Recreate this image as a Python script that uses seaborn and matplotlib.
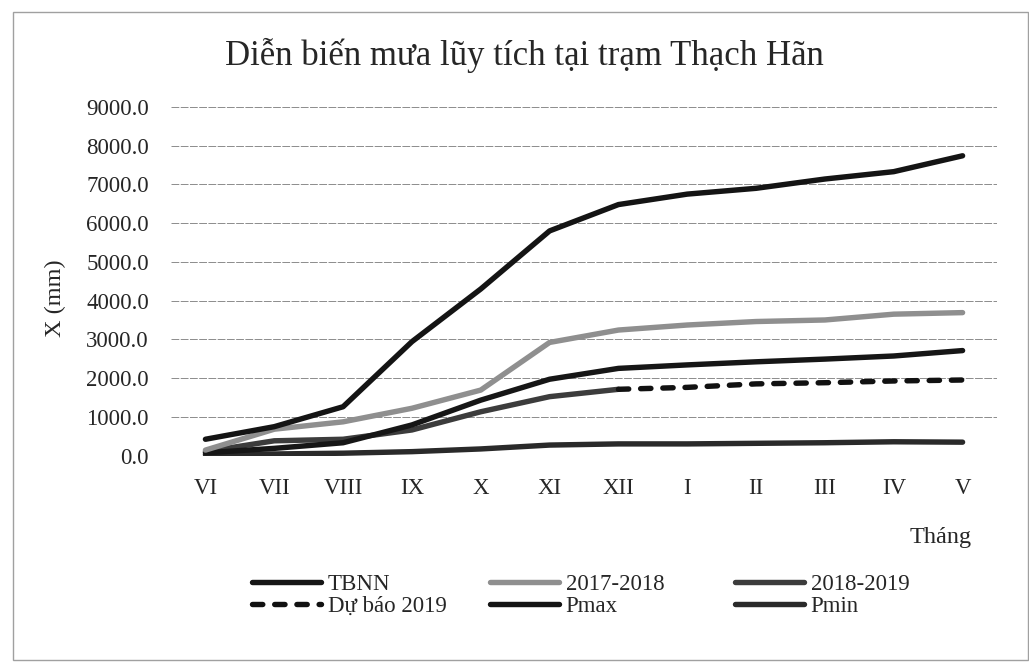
import numpy as np
import pandas as pd
import seaborn as sns
import matplotlib.pyplot as plt
from matplotlib.lines import Line2D
from matplotlib.patches import Rectangle

# Số liệu (mm, lũy tích)
thang = ['VI', 'VII', 'VIII', 'IX', 'X', 'XI', 'XII', 'I', 'II', 'III', 'IV', 'V']
tbnn = [70, 185, 330, 790, 1430, 1970, 2250, 2340, 2420, 2490, 2570, 2710]
nam_2017_2018 = [140, 680, 870, 1220, 1690, 2920, 3240, 3370, 3460, 3500, 3650, 3690]
nam_2018_2019 = [100, 380, 420, 660, 1130, 1520, 1710]           # VI -> XII
du_bao_2019 = [1710, 1760, 1850, 1880, 1925, 1950]               # XII -> V
pmax = [420, 745, 1260, 2940, 4300, 5800, 6480, 6750, 6900, 7140, 7330, 7740]
pmin = [20, 40, 60, 100, 170, 270, 300, 300, 315, 330, 355, 345]

sns.set_style('white')
plt.rcParams['font.family'] = ['Liberation Serif', 'DejaVu Serif']

x = np.arange(len(thang))
n18 = len(nam_2018_2019)

fig = plt.figure(figsize=(10.29, 6.62), dpi=100)
ax = fig.add_axes([0.1662, 0.3119, 0.8027, 0.5265])

kieu = {
    'TBNN': dict(color='#161616', lw=3.9),
    '2017-2018': dict(color='#8f8f8f', lw=3.9),
    '2018-2019': dict(color='#3c3c3c', lw=3.9),
    'Dự báo 2019': dict(color='#111111', lw=3.9, ls=(0, (1.9, 2.2)), dash_capstyle='round'),
    'Pmax': dict(color='#141414', lw=3.9),
    'Pmin': dict(color='#2a2a2a', lw=3.9),
}

sns.lineplot(x=x, y=pmin, ax=ax, **kieu['Pmin'])
sns.lineplot(x=x[:n18], y=nam_2018_2019, ax=ax, **kieu['2018-2019'])
sns.lineplot(x=x[n18 - 1:], y=du_bao_2019, ax=ax, **kieu['Dự báo 2019'])
sns.lineplot(x=x, y=tbnn, ax=ax, **kieu['TBNN'])
sns.lineplot(x=x, y=nam_2017_2018, ax=ax, **kieu['2017-2018'])
sns.lineplot(x=x, y=pmax, ax=ax, **kieu['Pmax'])

ax.set_xlim(-0.5, len(thang) - 0.5)
ax.set_ylim(0, 9000)
ax.set_yticks(np.arange(0, 9001, 1000))
ax.set_yticklabels([f'{v:.1f}' for v in np.arange(0, 9001, 1000)])
ax.set_xticks(x)
ax.set_xticklabels(thang)
ax.tick_params(axis='y', length=0, pad=16, labelsize=16.5)
ax.tick_params(axis='x', length=0, pad=16, labelsize=16.5)
ax.grid(axis='y', color='#8c8c8c', lw=0.7, ls=(0, (8, 1.5)))
ax.set_axisbelow(True)
for s in ax.spines.values():
    s.set_visible(False)

ax.set_ylabel('')
fig.text(0.054, 1 - 298 / 662, 'X (mm)', rotation=90, ha='center', va='center', fontsize=17.5)
fig.text(941 / 1029, 1 - 538 / 662, 'Tháng', ha='center', va='center', fontsize=17.5)
fig.text(524 / 1029, 1 - 55 / 662, 'Diễn biến mưa lũy tích tại trạm Thạch Hãn',
         ha='center', va='center', fontsize=25)

# chú thích: 3 cột, mỗi cột 2 dòng
cot = [['TBNN', 'Dự báo 2019'], ['2017-2018', 'Pmax'], ['2018-2019', 'Pmin']]
x_cot = [252 / 1029, 490 / 1029, 735 / 1029]
for i, ten in enumerate(cot):
    handles = [Line2D([], [], **kieu[t]) for t in ten]
    leg = fig.legend(handles, ten, loc='center left', bbox_to_anchor=(x_cot[i], 1 - 595.5 / 662),
                     frameon=False, fontsize=16.5, handlelength=3.0, handletextpad=0.3,
                     borderpad=0, borderaxespad=0, labelspacing=0.05)

fig.patches.append(Rectangle((13 / 1029, 2 / 662), 1015 / 1029, 648 / 662,
                             transform=fig.transFigure, fill=False, ec='#a0a0a0', lw=1))

fig.savefig('out.png', dpi=100)
plt.close()
